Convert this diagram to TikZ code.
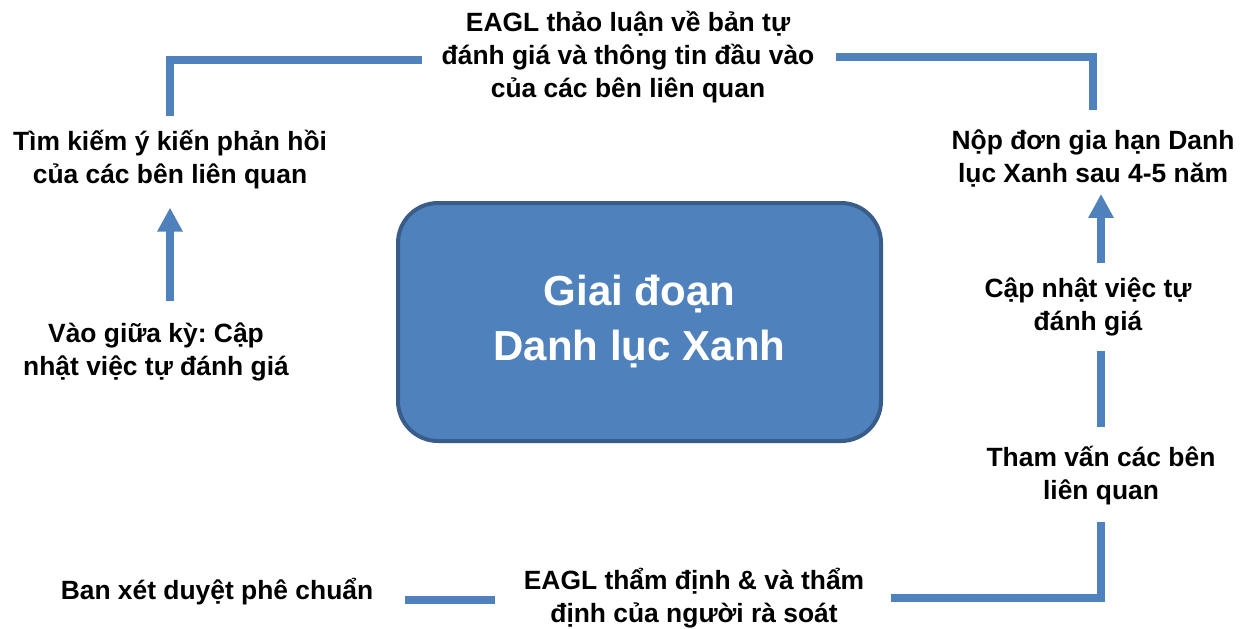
\documentclass[tikz,border=0pt]{standalone}
\usepackage{fontspec}
\setmainfont{Liberation Sans}
\usetikzlibrary{arrows.meta}
\frenchspacing
\definecolor{flowblue}{HTML}{4F81BD}
\definecolor{edgeblue}{HTML}{385D8A}
\tikzset{
    stage/.style={
        align=center,
        inner sep=0pt,
        font=\bfseries\fontsize{26.4}{33}\selectfont},
    phase/.style={
        draw=edgeblue,
        fill=flowblue,
        line width=4pt,
        rounded corners=40pt,
        minimum width=483pt,
        minimum height=238pt,
        align=center,
        text=white,
        font=\bfseries\fontsize{42}{55}\selectfont},
    flow/.style={
        draw=flowblue,
        line width=8pt},
    flowarrow/.style={
        flow,
        -{Triangle[width=24pt,length=24pt]}}}

\begin{document}
\begin{tikzpicture}[x=1pt,y=-1pt]
        \useasboundingbox (0,0) rectangle (1253,629);
        \node[phase] (phase) at (639.5,322) {Giai đoạn\\Danh lục Xanh};

        \node[stage] (discuss) at (628,57) {EAGL thảo luận về bản tự\\đánh giá và thông tin đầu vào\\của các bên liên quan};
        \node[stage] (seek) at (170,160) {Tìm kiếm ý kiến phản hồi\\của các bên liên quan};
        \node[stage] (midterm) at (156,352) {Vào giữa kỳ: Cập\\nhật việc tự đánh giá};
        \node[stage] (approve) at (217,592) {Ban xét duyệt phê chuẩn};
        \node[stage] (review) at (694,598) {EAGL thẩm định \& và thẩm\\định của người rà soát};
        \node[stage] (consult) at (1101,476) {Tham vấn các bên\\liên quan};
        \node[stage] (update) at (1088,307) {Cập nhật việc tự\\đánh giá};
        \node[stage] (renew) at (1093,159) {Nộp đơn gia hạn Danh\\lục Xanh sau 4-5 năm};

        \draw[flow, shorten <=29pt, shorten >=32pt] ([yshift=-2pt]review.west) -- ([yshift=-2pt]review.west -| approve.east);
        \draw[flow, shorten <=27pt, shorten >=16pt] (review.east) -| (consult.south);
        \draw[flow, shorten <=19pt, shorten >=15pt] (consult.north) -- (consult.north |- update.south);
        \draw[flowarrow, shorten <=15pt, shorten >=6pt] (update.north -| consult.north) -- (renew.south -| consult.north);
        \draw[flow, shorten <=20pt, shorten >=22pt] (renew.north) |- (discuss.east);
        \draw[flow, shorten <=20pt, shorten >=14pt] ([yshift=-3pt]discuss.west) -| (seek.north);
        \draw[flowarrow, shorten <=22pt, shorten >=18pt] (midterm.north -| seek.south) -- (seek.south);
    \end{tikzpicture}
\end{document}
